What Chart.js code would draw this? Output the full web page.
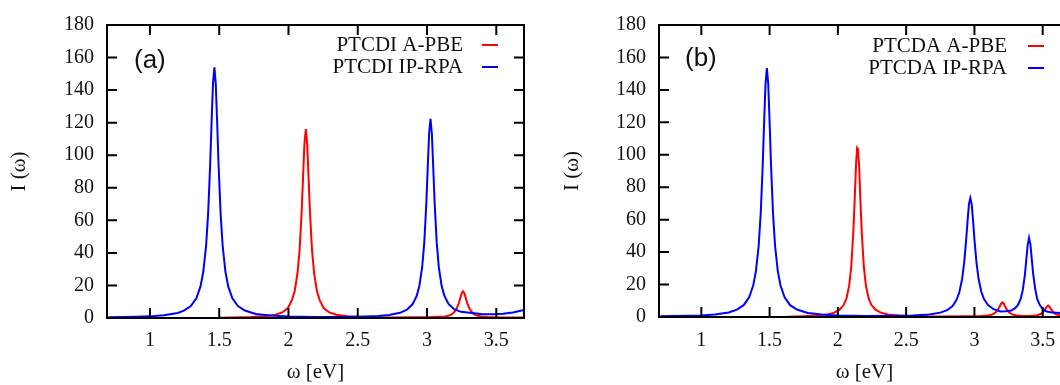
<!DOCTYPE html>
<html>
<head>
<meta charset="utf-8">
<script src="https://cdn.jsdelivr.net/npm/chart.js@4.4.1/dist/chart.umd.min.js"></script>
<style>
    html, body { margin: 0; padding: 0; background: #fff; }
    #wrap { position: relative; width: 1060px; height: 385px; overflow: hidden; background: #fff; }
    #chartA { position: absolute; left: 0; top: 0; }
    #chartB { position: absolute; left: 540px; top: 0; }
</style>
</head>
<body>
<div id="wrap">
    <canvas id="chartA" width="540" height="385"></canvas>
    <canvas id="chartB" width="540" height="385"></canvas>
</div>
<script>
// axes
const xMin = 0.69, xMax = 3.7;
const xTicks = [1, 1.5, 2, 2.5, 3, 3.5];
const yTicks = [0, 20, 40, 60, 80, 100, 120, 140, 160, 180];
const xTitle = 'ω [eV]';
const yTitle = 'I (ω)';

// panel (a) PTCDI
const labelsA = ['PTCDI A-PBE', 'PTCDI IP-RPA'];
const aRedX = [1.50, 1.65, 1.725, 1.825, 1.905, 1.955, 1.995, 2.025, 2.045, 2.065, 2.08, 2.095, 2.105, 2.115, 2.125, 2.135, 2.145, 2.155, 2.17, 2.185, 2.205, 2.225, 2.255, 2.295, 2.345, 2.425, 2.525, 2.70, 2.90, 3.00, 3.08, 3.13, 3.16, 3.18, 3.20, 3.215, 3.23, 3.24, 3.25, 3.26, 3.27, 3.28, 3.29, 3.305, 3.32, 3.34, 3.36, 3.39, 3.44, 3.52, 3.70];
const aRedY = [0.2, 0.4, 0.6, 1.1, 2.0, 3.4, 6.0, 11.0, 16.5, 27.5, 41.5, 65.2, 86.2, 106.8, 116.0, 106.8, 86.2, 65.2, 41.5, 27.5, 16.5, 11.0, 6.0, 3.4, 2.0, 1.1, 0.6, 0.35, 0.4, 0.45, 0.7, 0.9, 1.5, 2.3, 4.0, 6.0, 9.2, 12.2, 15.1, 16.4, 15.1, 12.2, 9.2, 6.0, 4.0, 2.3, 1.5, 0.9, 0.6, 0.4, 0.3];
const aBlueX = [0.70, 0.90, 1.00, 1.10, 1.20, 1.245, 1.295, 1.335, 1.365, 1.385, 1.405, 1.42, 1.435, 1.445, 1.455, 1.465, 1.475, 1.485, 1.495, 1.51, 1.525, 1.545, 1.565, 1.595, 1.635, 1.685, 1.765, 1.865, 2.00, 2.20, 2.40, 2.55, 2.65, 2.725, 2.805, 2.855, 2.895, 2.925, 2.945, 2.965, 2.98, 2.995, 3.005, 3.015, 3.025, 3.035, 3.045, 3.055, 3.07, 3.085, 3.105, 3.125, 3.155, 3.195, 3.245, 3.325, 3.40, 3.48, 3.55, 3.62, 3.70];
const aBlueY = [0.4, 0.7, 1.0, 1.7, 3.1, 4.5, 7.3, 12.1, 19.4, 28.4, 44.1, 64.1, 94.9, 120.6, 144.0, 154.0, 144.0, 120.6, 94.9, 64.1, 44.1, 28.4, 19.4, 12.1, 7.3, 4.6, 2.5, 1.5, 0.9, 0.6, 0.6, 0.9, 1.2, 1.8, 3.2, 5.1, 8.4, 13.5, 19.8, 31.2, 46.1, 70.6, 92.3, 113.2, 122.4, 113.2, 92.3, 70.6, 46.3, 31.3, 19.9, 13.7, 8.6, 5.4, 3.8, 3.0, 2.3, 2.3, 2.6, 3.4, 4.9];

// panel (b) PTCDA
const labelsB = ['PTCDA A-PBE', 'PTCDA IP-RPA'];
const bRedX = [1.63, 1.75, 1.843, 1.923, 1.973, 2.013, 2.043, 2.063, 2.083, 2.098, 2.113, 2.123, 2.133, 2.141, 2.147, 2.155, 2.165, 2.175, 2.19, 2.205, 2.225, 2.245, 2.275, 2.315, 2.365, 2.445, 2.545, 2.75, 2.95, 3.05, 3.10, 3.125, 3.145, 3.16, 3.175, 3.185, 3.195, 3.205, 3.215, 3.225, 3.235, 3.25, 3.265, 3.285, 3.31, 3.36, 3.41, 3.44, 3.46, 3.48, 3.495, 3.51, 3.52, 3.53, 3.54, 3.55, 3.56, 3.57, 3.585, 3.60, 3.62, 3.64, 3.70];
const bRedY = [0.2, 0.5, 0.9, 1.6, 2.7, 4.5, 7.5, 11.5, 19.5, 31.0, 52.0, 72.0, 94.0, 104.2, 103.4, 94.0, 72.0, 52.0, 31.0, 19.5, 11.5, 7.5, 4.5, 2.7, 1.6, 0.9, 0.5, 0.35, 0.45, 0.55, 0.9, 1.35, 2.2, 3.2, 4.8, 6.5, 8.2, 9.0, 8.2, 6.5, 4.8, 3.2, 2.2, 1.35, 0.95, 0.6, 0.65, 0.85, 1.1, 1.7, 2.4, 3.8, 5.0, 6.3, 7.0, 6.3, 5.0, 3.8, 2.4, 1.7, 1.1, 0.8, 0.4];
const bBlueX = [0.70, 0.90, 1.00, 1.10, 1.20, 1.26, 1.31, 1.35, 1.38, 1.40, 1.42, 1.435, 1.45, 1.46, 1.47, 1.48, 1.49, 1.50, 1.51, 1.525, 1.54, 1.56, 1.58, 1.61, 1.65, 1.70, 1.78, 1.88, 2.00, 2.20, 2.40, 2.55, 2.67, 2.75, 2.80, 2.84, 2.87, 2.89, 2.91, 2.925, 2.94, 2.95, 2.96, 2.97, 2.98, 2.99, 3.00, 3.015, 3.03, 3.05, 3.07, 3.10, 3.14, 3.19, 3.23, 3.27, 3.30, 3.32, 3.34, 3.355, 3.37, 3.38, 3.39, 3.40, 3.41, 3.42, 3.43, 3.445, 3.46, 3.48, 3.50, 3.53, 3.57, 3.63, 3.70];
const bBlueY = [0.4, 0.7, 1.0, 1.5, 2.8, 4.5, 7.3, 12.1, 19.4, 28.3, 43.9, 63.9, 94.6, 120.2, 143.6, 153.5, 143.6, 120.2, 94.6, 63.9, 43.9, 28.3, 19.4, 12.1, 7.3, 4.6, 2.5, 1.5, 0.95, 0.6, 0.7, 0.95, 1.6, 2.7, 4.2, 6.8, 10.7, 15.4, 23.5, 33.5, 48.0, 59.5, 69.5, 73.3, 69.5, 59.5, 48.0, 33.6, 23.7, 15.7, 11.1, 7.4, 4.8, 3.4, 3.6, 4.0, 5.6, 7.6, 11.5, 17.0, 26.3, 35.3, 44.5, 48.8, 44.9, 35.7, 26.8, 17.5, 11.0, 7.2, 5.0, 3.4, 2.7, 2.5, 2.6];

function toPoints(xs, ys) {
    return xs.map((x, i) => ({x: x, y: ys[i]}));
}

// gnuplot style frame: border, inward ticks, key and panel tag
const gnuFrame = {
    id: 'gnuFrame',
    afterDatasetsDraw(chart, args, opts) {
        let {ctx, chartArea: a, scales: {x, y}} = chart;
        ctx.save();
        ctx.strokeStyle = '#000';
        ctx.lineWidth = 2;
        ctx.beginPath();
        x.ticks.forEach(t => {
            let px = x.getPixelForValue(t.value);
            ctx.moveTo(px, a.bottom); ctx.lineTo(px, a.bottom - 10);
            ctx.moveTo(px, a.top); ctx.lineTo(px, a.top + 10);
        });
        y.ticks.forEach(t => {
            let py = y.getPixelForValue(t.value);
            ctx.moveTo(a.left, py); ctx.lineTo(a.left + 10, py);
            ctx.moveTo(a.right, py); ctx.lineTo(a.right - 10, py);
        });
        ctx.stroke();
        ctx.strokeRect(a.left, a.top, a.right - a.left, a.bottom - a.top);

        // key
        ctx.font = '21px "Liberation Serif"';
        ctx.textAlign = 'right';
        ctx.textBaseline = 'middle';
        chart.data.datasets.forEach((ds, i) => {
            let yy = a.top + opts.rows[i];
            ctx.fillStyle = '#111';
            ctx.fillText(ds.label, a.right - opts.textRight, yy);
            ctx.strokeStyle = ds.borderColor;
            ctx.lineWidth = 2;
            ctx.beginPath();
            ctx.moveTo(a.right - opts.lineFrom, yy);
            ctx.lineTo(a.right - opts.lineTo, yy);
            ctx.stroke();
        });

        // panel tag
        ctx.font = '26px "Liberation Sans"';
        ctx.textAlign = 'left';
        ctx.textBaseline = 'alphabetic';
        ctx.fillStyle = '#111';
        ctx.fillText(opts.tag, a.left + opts.tagX, a.top + opts.tagBase);
        ctx.restore();
    }
};

function spectrumChart(id, p) {
    let ctx = document.getElementById(id).getContext('2d');
    return new Chart(ctx, {
        type: 'line',
        data: {
            datasets: [
                { label: p.labels[0], data: toPoints(p.redX, p.redY), borderColor: '#ff0000', order: 1 },
                { label: p.labels[1], data: toPoints(p.blueX, p.blueY), borderColor: '#0000ff', order: 0 }
            ]
        },
        options: {
            responsive: false,
            animation: false,
            events: [],
            layout: { padding: { top: p.top, right: p.right, left: 0, bottom: 0 } },
            elements: {
                point: { radius: 0 },
                line: { borderWidth: 2, tension: 0, fill: false }
            },
            plugins: {
                legend: { display: false },
                tooltip: { enabled: false },
                gnuFrame: p.key
            },
            scales: {
                x: {
                    type: 'linear',
                    min: xMin,
                    max: xMax,
                    grid: { display: false, drawTicks: false },
                    border: { display: false },
                    afterBuildTicks: s => { s.ticks = xTicks.map(v => ({value: v})); },
                    afterFit: s => { s.height = p.xHeight; },
                    ticks: {
                        color: '#111',
                        autoSkip: false,
                        maxRotation: 0,
                        padding: p.xPad,
                        font: { family: 'Liberation Serif', size: 20 },
                        callback: v => String(v)
                    },
                    title: {
                        display: true,
                        text: xTitle,
                        color: '#111',
                        padding: 0,
                        font: { family: 'Liberation Serif', size: 21, lineHeight: 1.15 }
                    }
                },
                y: {
                    type: 'linear',
                    min: 0,
                    max: 180,
                    grid: { display: false, drawTicks: false },
                    border: { display: false },
                    afterBuildTicks: s => { s.ticks = yTicks.map(v => ({value: v})); },
                    afterFit: s => { s.width = p.yWidth; },
                    ticks: {
                        color: '#111',
                        padding: 13,
                        font: { family: 'Liberation Serif', size: 20 }
                    },
                    title: {
                        display: true,
                        text: yTitle,
                        color: '#111',
                        padding: { top: p.yTitlePad, bottom: 0 },
                        font: { family: 'Liberation Serif', size: 21 }
                    }
                }
            }
        },
        plugins: [gnuFrame]
    });
}

spectrumChart('chartA', {
    labels: labelsA, redX: aRedX, redY: aRedY, blueX: aBlueX, blueY: aBlueY,
    top: 22, right: 16, xHeight: 67, yWidth: 107, xPad: 11, yTitlePad: 7,
    key: { rows: [20, 42], textRight: 61, lineFrom: 42, lineTo: 26, tag: '(a)', tagX: 27, tagBase: 43 }
});

spectrumChart('chartB', {
    labels: labelsB, redX: bRedX, redY: bRedY, blueX: bBlueX, blueY: bBlueY,
    top: 24, right: 10, xHeight: 68, yWidth: 119, xPad: 12, yTitlePad: 20,
    key: { rows: [21, 43], textRight: 63, lineFrom: 42, lineTo: 26, tag: '(b)', tagX: 26, tagBase: 41 }
});
</script>
</body>
</html>
